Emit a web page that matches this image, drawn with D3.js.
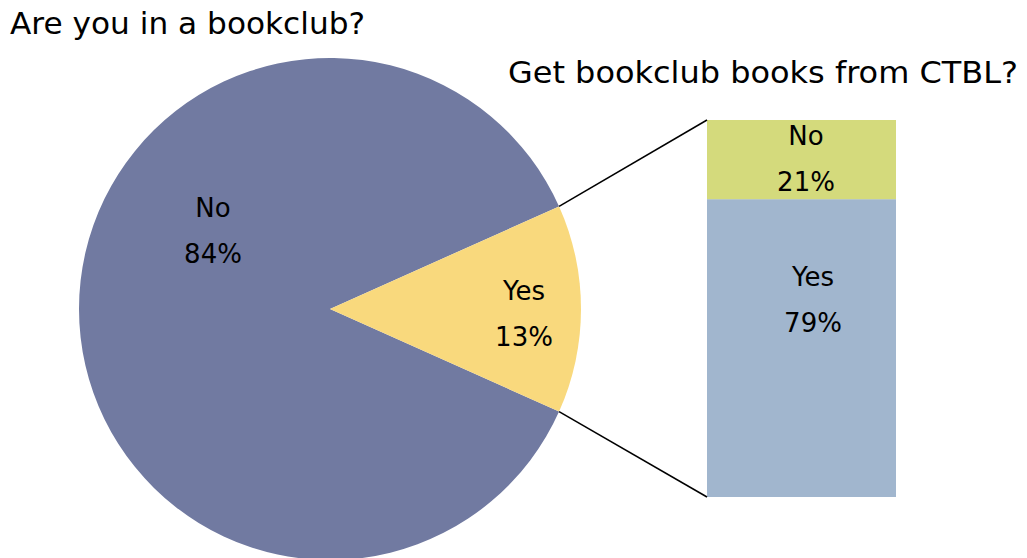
<!DOCTYPE html>
<html>
<head>
<meta charset="utf-8">
<script src="https://cdn.jsdelivr.net/npm/d3@7"></script>
<style>
html,body{margin:0;padding:0;background:#fff;}
svg{display:block;}
text{font-family:"Comic Sans MS","DejaVu Sans",sans-serif;fill:#000;}
</style>
</head>
<body>
<svg id="chart" width="1027" height="558"></svg>
<script>
// Data
const pieCategories = ["No", "Yes"];
const pieValues = [84, 13];
const barCategories = ["Yes", "No"];
const barValues = [79, 21];
const pieTitle = "Are you in a bookclub?";
const barTitle = "Get bookclub books from CTBL?";

const pieColors = ["#717aa1", "#f9d97d"];
const barColors = ["#a1b6ce", "#d4da7c"];

const svg = d3.select("#chart");
const cx = 330, cy = 309, R = 251;

const total = d3.sum(pieValues);
const yesHalf = Math.PI * pieValues[1] / total;
const pie = d3.pie().sort(null).value(d => d.v)
  .startAngle(Math.PI / 2 + yesHalf)
  .endAngle(Math.PI / 2 + yesHalf + 2 * Math.PI);
const pieData = pie(pieCategories.map((c, i) => ({c, v: pieValues[i]})));
const arc = d3.arc().innerRadius(0).outerRadius(R);

const g = svg.append("g").attr("transform", `translate(${cx},${cy})`);
g.selectAll("path").data(pieData).join("path")
  .attr("d", arc)
  .attr("fill", (d, i) => pieColors[i]);

// Bar
const barX0 = 707, barX1 = 896;
const y = d3.scaleLinear().domain([0, 100]).range([497, 120]);
let acc = 0;
const stack = barValues.map((v, i) => { const s = {c: barCategories[i], v, y0: acc, y1: acc + v}; acc += v; return s; });
svg.selectAll("rect.bar").data(stack).join("rect")
  .attr("class", "bar")
  .attr("x", barX0).attr("width", barX1 - barX0)
  .attr("y", d => y(d.y1)).attr("height", d => y(d.y0) - y(d.y1))
  .attr("fill", (d, i) => barColors[i]);

// Connector lines from pie Yes slice edges to bar corners
const yes = pieData[1];
const pt = a => [cx + R * Math.sin(a), cy - R * Math.cos(a)];
const pTop = pt(yes.startAngle), pBot = pt(yes.endAngle);
svg.append("line").attr("x1", pTop[0]).attr("y1", pTop[1]).attr("x2", barX0).attr("y2", y(100))
  .attr("stroke", "#000").attr("stroke-width", 1.5);
svg.append("line").attr("x1", pBot[0]).attr("y1", pBot[1]).attr("x2", barX0).attr("y2", y(0))
  .attr("stroke", "#000").attr("stroke-width", 1.5);

// Titles
svg.append("text").attr("x", 10).attr("y", 34).attr("font-size", 30)
  .attr("textLength", 355).attr("lengthAdjust", "spacingAndGlyphs").text(pieTitle);
svg.append("text").attr("x", 508).attr("y", 83).attr("font-size", 30)
  .attr("textLength", 510).attr("lengthAdjust", "spacingAndGlyphs").text(barTitle);

// Labels
function label(x, yTop, cat, val) {
  const t = svg.append("text").attr("text-anchor", "middle").attr("font-size", 26);
  t.append("tspan").attr("x", x).attr("y", yTop).text(cat);
  t.append("tspan").attr("x", x).attr("y", yTop + 46).text(val + "%");
}
label(213, 217, pieCategories[0], pieValues[0]);
label(524, 300, pieCategories[1], pieValues[1]);
label(806, 145, barCategories[1], barValues[1]);
label(813, 286, barCategories[0], barValues[0]);
</script>
</body>
</html>
